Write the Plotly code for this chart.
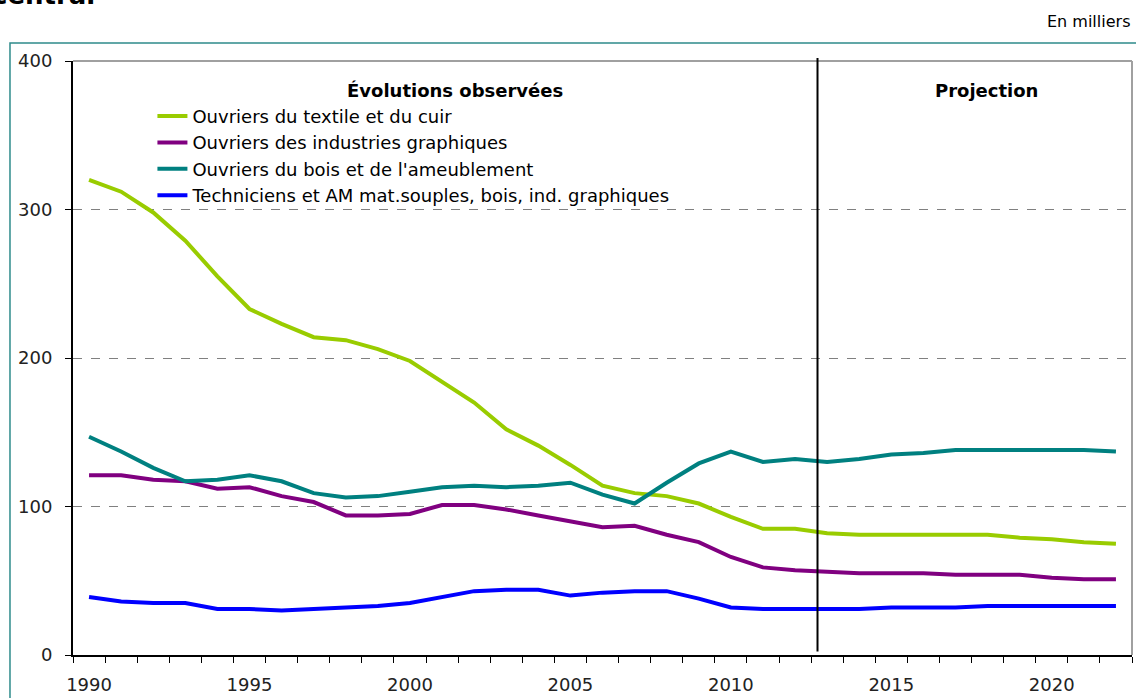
"""Effectifs des familles professionnelles : évolutions observées et projection.

Graphique en lignes (en milliers) avec séparation observé / projeté.
"""

import plotly.graph_objects as go

# ===== DONNÉES =====
annees = [1990, 1991, 1992, 1993, 1994, 1995, 1996, 1997, 1998, 1999, 2000,
          2001, 2002, 2003, 2004, 2005, 2006, 2007, 2008, 2009, 2010, 2011,
          2012, 2013, 2014, 2015, 2016, 2017, 2018, 2019, 2020, 2021, 2022]

textile_cuir = [320, 312, 298, 279, 255, 233, 223, 214, 212, 206, 198,
                184, 170, 152, 141, 128, 114, 109, 107, 102, 93, 85,
                85, 82, 81, 81, 81, 81, 81, 79, 78, 76, 75]

industries_graphiques = [121, 121, 118, 117, 112, 113, 107, 103, 94, 94, 95,
                         101, 101, 98, 94, 90, 86, 87, 81, 76, 66, 59,
                         57, 56, 55, 55, 55, 54, 54, 54, 52, 51, 51]

bois_ameublement = [147, 137, 126, 117, 118, 121, 117, 109, 106, 107, 110,
                    113, 114, 113, 114, 116, 108, 102, 116, 129, 137, 130,
                    132, 130, 132, 135, 136, 138, 138, 138, 138, 138, 137]

techniciens_am = [39, 36, 35, 35, 31, 31, 30, 31, 32, 33, 35,
                  39, 43, 44, 44, 40, 42, 43, 43, 38, 32, 31,
                  31, 31, 31, 32, 32, 32, 33, 33, 33, 33, 33]

series = [
    ("Ouvriers du textile et du cuir", textile_cuir, "#99CC00"),
    ("Ouvriers des industries graphiques", industries_graphiques, "#800080"),
    ("Ouvriers du bois et de l'ameublement", bois_ameublement, "#008080"),
    ("Techniciens et AM mat.souples, bois, ind. graphiques", techniciens_am, "#0000FF"),
]

annees_labels = [1990, 1995, 2000, 2005, 2010, 2015, 2020]
bornes_annees = [a - 0.5 for a in annees] + [annees[-1] + 0.5]

FONT = "DejaVu Sans"
DEBUT_PROJECTION = 2012.7  # trait vertical observé / projeté


def create_projection_chart() -> go.Figure:
    fig = go.Figure()

    # ===== COURBES =====
    for nom, valeurs, couleur in series:
        fig.add_trace(go.Scatter(
            x=annees,
            y=valeurs,
            name=nom,
            mode="lines",
            line=dict(color=couleur, width=4),
            hovertemplate="%{x} : %{y}<extra>" + nom + "</extra>",
        ))

    # ===== SÉPARATION OBSERVÉ / PROJECTION =====
    fig.add_shape(type="line", xref="x", yref="paper",
                  x0=DEBUT_PROJECTION, x1=DEBUT_PROJECTION, y0=0.006, y1=1.005,
                  line=dict(color="black", width=2))

    # Bordure grise haut / droite de la zone de tracé
    fig.add_shape(type="line", xref="paper", yref="paper", x0=0, x1=1, y0=1, y1=1,
                  line=dict(color="#A0A0A0", width=2), layer="below")
    fig.add_shape(type="line", xref="paper", yref="paper", x0=1, x1=1, y0=0, y1=1,
                  line=dict(color="#A0A0A0", width=2), layer="below")

    # Cadre extérieur (teal)
    fig.add_shape(type="rect", xref="paper", yref="paper",
                  x0=-0.0595, x1=1.05, y0=-0.2, y1=1.0303,
                  line=dict(color="#2E8B8B", width=1.5))

    # ===== TEXTES =====
    fig.add_annotation(text="<b>Évolutions observées</b>", xref="paper", yref="paper",
                       x=0.361, y=0.9495, xanchor="center", yanchor="middle",
                       showarrow=False,
                       font=dict(family=FONT, size=18, color="black"))
    fig.add_annotation(text="<b>Projection</b>", xref="paper", yref="paper",
                       x=0.863, y=0.9495, xanchor="center", yanchor="middle",
                       showarrow=False,
                       font=dict(family=FONT, size=18, color="black"))
    fig.add_annotation(text="En milliers", xref="paper", yref="paper",
                       x=1.0, y=1.066, xanchor="right", yanchor="middle",
                       showarrow=False,
                       font=dict(family=FONT, size=16, color="black"))
    fig.add_annotation(text="<b>central</b>", xref="paper", yref="paper",
                       x=-0.078, y=1.082, xanchor="left", yanchor="bottom",
                       showarrow=False,
                       font=dict(family=FONT, size=26, color="black"))

    # ===== LAYOUT =====
    fig.update_layout(
        width=1136,
        height=698,
        margin=dict(l=73, r=4, t=61, b=43, autoexpand=False),
        paper_bgcolor="white",
        plot_bgcolor="white",
        font=dict(family=FONT, size=18, color="#222222"),
        showlegend=True,
        legend=dict(
            x=0.075, y=0.938, xanchor="left", yanchor="top",
            bgcolor="rgba(0,0,0,0)",
            font=dict(family=FONT, size=18, color="black"),
            tracegroupgap=0,
        ),
        xaxis=dict(
            range=[1989.5, 2022.5],
            tickmode="array",
            tickvals=annees_labels,
            ticks="",
            ticklabelstandoff=12,
            automargin=False,
            showgrid=False,
            zeroline=False,
            showline=True,
            linecolor="black",
            linewidth=2,
            minor=dict(tickmode="array", tickvals=bornes_annees,
                       ticks="outside", ticklen=6, tickcolor="black",
                       showgrid=False),
        ),
        yaxis=dict(
            range=[0, 400],
            tickvals=[0, 100, 200, 300, 400],
            ticks="outside",
            ticklen=6,
            tickcolor="black",
            ticklabelstandoff=9,
            automargin=False,
            showgrid=True,
            gridcolor="#808080",
            griddash="dash",
            gridwidth=1,
            zeroline=False,
            showline=True,
            linecolor="black",
            linewidth=2,
        ),
    )

    return fig


fig = create_projection_chart()
# Marge par défaut du <body> supprimée pour que la figure occupe toute la fenêtre
fig.write_html("out.html", config={"displayModeBar": False},
               post_script="document.body.style.margin = '0';")
